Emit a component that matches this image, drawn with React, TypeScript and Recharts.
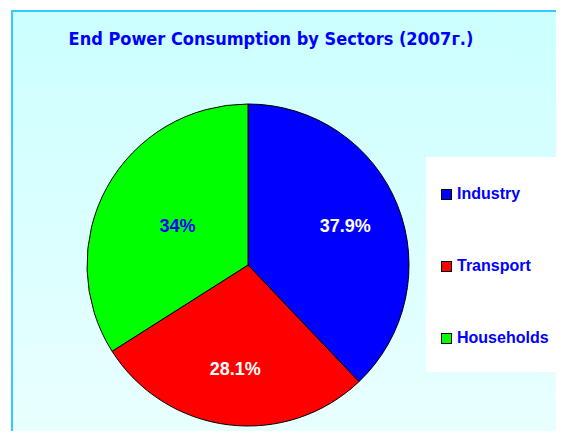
import { PieChart, Pie, Cell, Legend } from 'recharts';

const sectors = ['Industry', 'Transport', 'Households'];
const shares = [37.9, 28.1, 34];
const shareLabels = ['37.9%', '28.1%', '34%'];

const sliceColors = ['#0000FF', '#FF0000', '#00FF00'];
const labelColors = ['#FFFFFF', '#FFFFFF', '#0000FF'];
// label distance from centre, as a fraction of the outer radius
const labelRadius = [0.65, 0.65, 0.5];

const data = sectors.map((name, i) => ({ name, value: shares[i], label: shareLabels[i] }));

const renderLabel = (props: any) => {
  const { cx, cy, midAngle, outerRadius, index } = props;
  const RAD = Math.PI / 180;
  const r = outerRadius * labelRadius[index];
  const x = cx + r * Math.cos(-midAngle * RAD);
  const y = cy + r * Math.sin(-midAngle * RAD);
  return (
    <text
      x={x}
      y={y}
      fill={labelColors[index]}
      textAnchor="middle"
      dominantBaseline="central"
      fontFamily="'Liberation Sans', Arial, sans-serif"
      fontWeight="bold"
      fontSize={18}
    >
      {data[index].label}
    </text>
  );
};

const renderLegend = () => (
  <div
    style={{
      width: 135,
      height: 215,
      background: '#FFFFFF',
      position: 'relative',
      fontFamily: "'Liberation Sans', Arial, sans-serif",
      fontWeight: 'bold',
      fontSize: 16,
      color: '#0000FF',
    }}
  >
    {data.map((d, i) => (
      <div
        key={d.name}
        style={{ position: 'absolute', left: 15, top: 28 + i * 72, display: 'flex', alignItems: 'center', height: 18 }}
      >
        <span
          style={{
            display: 'inline-block',
            width: 9,
            height: 9,
            background: sliceColors[i],
            border: '1px solid #000',
            marginRight: 5,
          }}
        />
        <span>{d.name}</span>
      </div>
    ))}
  </div>
);

export default function App() {
  return (
    <div style={{ position: 'relative', width: 564, height: 439, margin: -8, overflow: 'hidden', background: '#FFFFFF' }}>
      <div
        style={{
          position: 'absolute',
          left: 11,
          top: 10,
          width: 570,
          height: 450,
          borderLeft: '2px solid #33CCFF',
          borderTop: '2px solid #33CCFF',
          background: 'linear-gradient(to bottom, #CCFFFF 0%, #EBFFFF 100%)',
        }}
      />
      <div style={{ position: 'absolute', left: 0, top: 0 }}>
        <PieChart width={564} height={439} margin={{ top: 0, right: 0, bottom: 0, left: 0 }}>
          <text
            x={271}
            y={38}
            textAnchor="middle"
            dominantBaseline="central"
            fill="#0000FF"
            fontFamily="'DejaVu Sans Condensed', 'DejaVu Sans', sans-serif"
            fontWeight="bold"
            fontSize={18}
          >
            End Power Consumption by Sectors (2007г.)
          </text>
          <Pie
            data={data}
            dataKey="value"
            nameKey="name"
            cx={248}
            cy={265}
            outerRadius={161}
            startAngle={90}
            endAngle={-270}
            stroke="#000000"
            strokeWidth={1}
            label={renderLabel}
            labelLine={false}
            isAnimationActive={false}
          >
            {data.map((d, i) => (
              <Cell key={d.name} fill={sliceColors[i]} />
            ))}
          </Pie>
          <Legend
            content={renderLegend}
            wrapperStyle={{ position: 'absolute', left: 426, top: 157, width: 135, height: 215 }}
          />
        </PieChart>
      </div>
    </div>
  );
}
